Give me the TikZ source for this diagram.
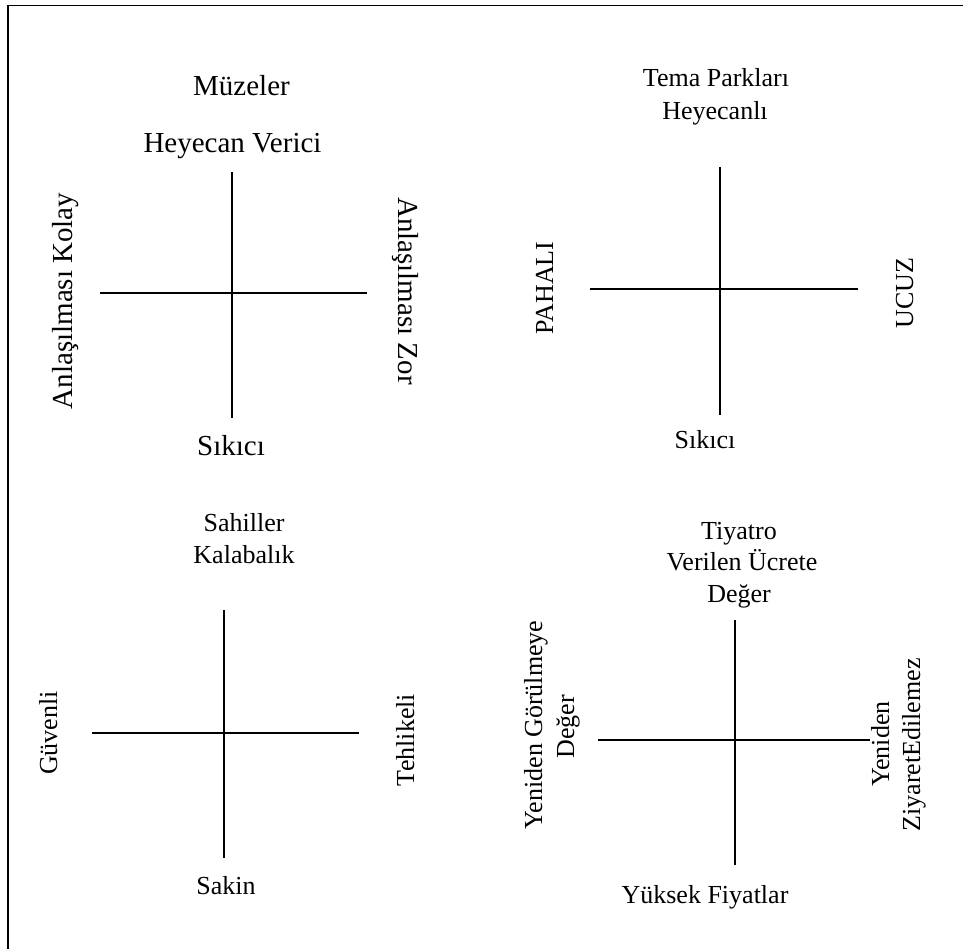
\documentclass[tikz,border=0pt]{standalone}
\usepackage{fontspec}
\setmainfont{Liberation Serif}
\newcommand{\bigtxt}{\fontsize{29}{33}\selectfont}
\newcommand{\midtxt}{\fontsize{26}{31}\selectfont}
\begin{document}
\begin{tikzpicture}[x=1pt,y=-1pt,
  axis/.style={line width=1.3pt,black},
  frameline/.style={line width=1.8pt,black},
  lbl/.style={inner sep=0pt,anchor=base,font=\midtxt},
  lblbig/.style={inner sep=0pt,anchor=base,font=\bigtxt}]
\useasboundingbox (0,0) rectangle (963,949);
\fill[white] (0,0) rectangle (963,949);

% outer frame (top and left edges)
\coordinate (fTL) at (8,5.5);
\coordinate (fTR) at (963,5.5);
\coordinate (fBL) at (8,949);
\draw[frameline] (fTR) -- (fTL) -- (fBL);

% ---------- Müzeler ----------
\node[lblbig] (m1) at (241.5,96) {Müzeler};
\node[lblbig] (m2) at (232.5,153) {Heyecan Verici};
\node[lblbig] (mb) at (231,455) {Sıkıcı};
\node[lblbig,rotate=90] (ml) at (72,301) {Anlaşılması Kolay};
\node[lblbig,rotate=-90] (mr) at (398,291) {Anlaşılması Zor};
\coordinate (mvT) at (232,172); \coordinate (mvB) at (232,418);
\coordinate (mhL) at (100,293); \coordinate (mhR) at (367,293);
\draw[axis] (mvT) -- (mvB);
\draw[axis] (mhL) -- (mhR);

% ---------- Tema Parkları ----------
\node[lbl] (t1) at (716,87) {Tema Parkları};
\node[lbl] (t2) at (715,120) {Heyecanlı};
\node[lbl] (tb) at (705,448) {Sıkıcı};
\node[lbl,rotate=90] (tl) at (553,288) {PAHALI};
\node[lbl,rotate=90] (tr) at (913,293) {UCUZ};
\coordinate (tvT) at (720,167); \coordinate (tvB) at (720,415);
\coordinate (thL) at (590,289); \coordinate (thR) at (858,289);
\draw[axis] (tvT) -- (tvB);
\draw[axis] (thL) -- (thR);

% ---------- Sahiller ----------
\node[lbl] (s1) at (244,531) {Sahiller};
\node[lbl] (s2) at (244,563) {Kalabalık};
\node[lbl] (sb) at (226,894) {Sakin};
\node[lbl,rotate=90] (sl) at (57,733) {Güvenli};
\node[lbl,rotate=90] (sr) at (414,740) {Tehlikeli};
\coordinate (svT) at (224,610); \coordinate (svB) at (224,858);
\coordinate (shL) at (92,733); \coordinate (shR) at (359,733);
\draw[axis] (svT) -- (svB);
\draw[axis] (shL) -- (shR);

% ---------- Tiyatro ----------
\node[lbl] (y1) at (739,539) {Tiyatro};
\node[lbl] (y2) at (742,570) {Verilen Ücrete};
\node[lbl] (y3) at (739,602) {Değer};
\node[lbl] (yb) at (705,903) {Yüksek Fiyatlar};
\node[lbl,rotate=90] (yl1) at (542,725) {Yeniden Görülmeye};
\node[lbl,rotate=90] (yl2) at (574,727) {Değer};
\node[lbl,rotate=90] (yr1) at (889,744) {Yeniden};
\node[lbl,rotate=90] (yr2) at (920,745) {ZiyaretEdilemez};
\coordinate (yvT) at (735,620); \coordinate (yvB) at (735,865);
\coordinate (yhL) at (598,740); \coordinate (yhR) at (870,740);
\draw[axis] (yvT) -- (yvB);
\draw[axis] (yhL) -- (yhR);
\end{tikzpicture}
\end{document}
